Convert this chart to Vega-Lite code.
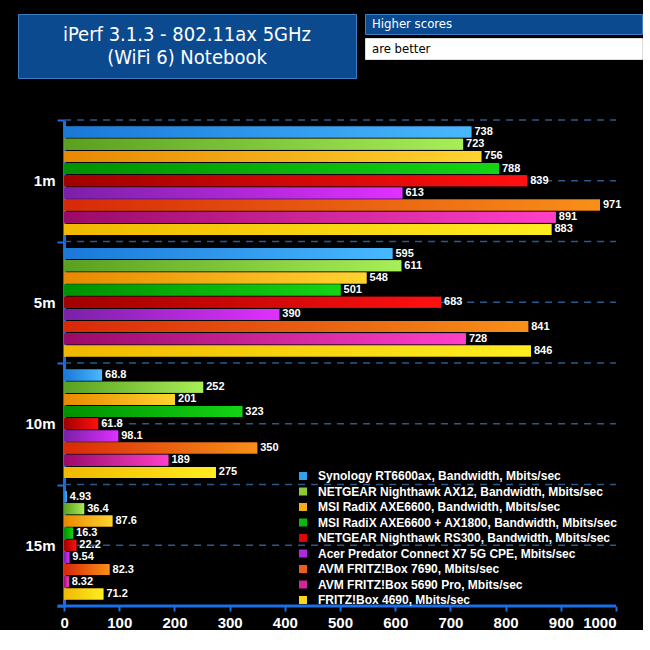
{
  "$schema": "https://vega.github.io/schema/vega-lite/v6.json",
  "background": "black",
  "padding": {"left": 17, "top": 13, "right": 0, "bottom": 0},
  "config": {"view": {"stroke": null}, "font": "Liberation Sans"},
  "datasets": {
    "bars": [
      {"distance": "1m", "device": "Synology RT6600ax, Bandwidth, Mbits/sec", "value": 738},
      {"distance": "1m", "device": "NETGEAR Nighthawk AX12, Bandwidth, Mbits/sec", "value": 723},
      {"distance": "1m", "device": "MSI RadiX AXE6600, Bandwidth, Mbits/sec", "value": 756},
      {"distance": "1m", "device": "MSI RadiX AXE6600 + AX1800, Bandwidth, Mbits/sec", "value": 788},
      {"distance": "1m", "device": "NETGEAR Nighthawk RS300, Bandwidth, Mbits/sec", "value": 839},
      {"distance": "1m", "device": "Acer Predator Connect X7 5G CPE, Mbits/sec", "value": 613},
      {"distance": "1m", "device": "AVM FRITZ!Box 7690, Mbits/sec", "value": 971},
      {"distance": "1m", "device": "AVM FRITZ!Box 5690 Pro, Mbits/sec", "value": 891},
      {"distance": "1m", "device": "FRITZ!Box 4690, Mbits/sec", "value": 883},
      {"distance": "5m", "device": "Synology RT6600ax, Bandwidth, Mbits/sec", "value": 595},
      {"distance": "5m", "device": "NETGEAR Nighthawk AX12, Bandwidth, Mbits/sec", "value": 611},
      {"distance": "5m", "device": "MSI RadiX AXE6600, Bandwidth, Mbits/sec", "value": 548},
      {"distance": "5m", "device": "MSI RadiX AXE6600 + AX1800, Bandwidth, Mbits/sec", "value": 501},
      {"distance": "5m", "device": "NETGEAR Nighthawk RS300, Bandwidth, Mbits/sec", "value": 683},
      {"distance": "5m", "device": "Acer Predator Connect X7 5G CPE, Mbits/sec", "value": 390},
      {"distance": "5m", "device": "AVM FRITZ!Box 7690, Mbits/sec", "value": 841},
      {"distance": "5m", "device": "AVM FRITZ!Box 5690 Pro, Mbits/sec", "value": 728},
      {"distance": "5m", "device": "FRITZ!Box 4690, Mbits/sec", "value": 846},
      {"distance": "10m", "device": "Synology RT6600ax, Bandwidth, Mbits/sec", "value": 68.8},
      {"distance": "10m", "device": "NETGEAR Nighthawk AX12, Bandwidth, Mbits/sec", "value": 252},
      {"distance": "10m", "device": "MSI RadiX AXE6600, Bandwidth, Mbits/sec", "value": 201},
      {"distance": "10m", "device": "MSI RadiX AXE6600 + AX1800, Bandwidth, Mbits/sec", "value": 323},
      {"distance": "10m", "device": "NETGEAR Nighthawk RS300, Bandwidth, Mbits/sec", "value": 61.8},
      {"distance": "10m", "device": "Acer Predator Connect X7 5G CPE, Mbits/sec", "value": 98.1},
      {"distance": "10m", "device": "AVM FRITZ!Box 7690, Mbits/sec", "value": 350},
      {"distance": "10m", "device": "AVM FRITZ!Box 5690 Pro, Mbits/sec", "value": 189},
      {"distance": "10m", "device": "FRITZ!Box 4690, Mbits/sec", "value": 275},
      {"distance": "15m", "device": "Synology RT6600ax, Bandwidth, Mbits/sec", "value": 4.93},
      {"distance": "15m", "device": "NETGEAR Nighthawk AX12, Bandwidth, Mbits/sec", "value": 36.4},
      {"distance": "15m", "device": "MSI RadiX AXE6600, Bandwidth, Mbits/sec", "value": 87.6},
      {"distance": "15m", "device": "MSI RadiX AXE6600 + AX1800, Bandwidth, Mbits/sec", "value": 16.3},
      {"distance": "15m", "device": "NETGEAR Nighthawk RS300, Bandwidth, Mbits/sec", "value": 22.2},
      {"distance": "15m", "device": "Acer Predator Connect X7 5G CPE, Mbits/sec", "value": 9.54},
      {"distance": "15m", "device": "AVM FRITZ!Box 7690, Mbits/sec", "value": 82.3},
      {"distance": "15m", "device": "AVM FRITZ!Box 5690 Pro, Mbits/sec", "value": 8.32},
      {"distance": "15m", "device": "FRITZ!Box 4690, Mbits/sec", "value": 71.2}
    ]
  },
  "vconcat": [
    {
      "hconcat": [
        {
          "width": 338,
          "height": 64,
          "view": {"fill": "#0b4a8e", "stroke": "#3f7cc0", "strokeWidth": 1},
          "data": {"values": [{"t": "iPerf 3.1.3 - 802.11ax 5GHz\n(WiFi 6) Notebook"}]},
          "mark": {"type": "text", "color": "white", "fontSize": 20, "font": "Liberation Sans Narrow, DejaVu Sans Condensed, Liberation Sans", "lineBreak": "\n", "lineHeight": 23, "baseline": "middle", "align": "center", "dy": -11},
          "encoding": {"text": {"field": "t", "type": "nominal"}}
        },
        {
          "vconcat": [
            {
              "width": 277,
              "height": 20,
              "view": {"fill": "#0b4a8e", "stroke": "#3f7cc0", "strokeWidth": 1},
              "data": {"values": [{"t": "Higher scores"}]},
              "mark": {"type": "text", "color": "white", "fontSize": 13, "font": "Liberation Sans Narrow, DejaVu Sans Condensed, Liberation Sans", "align": "left", "baseline": "middle", "dx": 7},
              "encoding": {
                "x": {"datum": 0, "type": "quantitative", "scale": {"domain": [0, 1]}, "axis": null},
                "text": {"field": "t", "type": "nominal"}
              }
            },
            {
              "width": 277,
              "height": 21,
              "view": {"fill": "white", "stroke": "#dddddd", "strokeWidth": 1},
              "data": {"values": [{"t": "are better"}]},
              "mark": {"type": "text", "color": "black", "fontSize": 13, "font": "Liberation Sans Narrow, DejaVu Sans Condensed, Liberation Sans", "align": "left", "baseline": "middle", "dx": 7},
              "encoding": {
                "x": {"datum": 0, "type": "quantitative", "scale": {"domain": [0, 1]}, "axis": null},
                "text": {"field": "t", "type": "nominal"}
              }
            }
          ],
          "spacing": 2,
          "resolve": {"scale": {"x": "independent", "y": "independent"}}
        }
      ],
      "spacing": 7,
      "resolve": {"scale": {"x": "independent", "y": "independent"}}
    },
    {
      "width": 598,
      "height": 486,
      "data": {"name": "bars"},
      "encoding": {
        "y": {
          "field": "distance",
          "type": "nominal",
          "sort": ["1m", "5m", "10m", "15m"],
          "scale": {"paddingInner": 0, "paddingOuter": 0},
          "axis": {
            "title": null,
            "offset": -46,
            "domainColor": "#1a6fe6",
            "domainWidth": 3,
            "tickColor": "#1a6fe6",
            "tickWidth": 2,
            "tickSize": 7,
            "tickBand": "extent",
            "labelColor": "white",
            "labelFont": "Liberation Sans",
            "labelFontWeight": "bold",
            "labelFontSize": 15,
            "labelPadding": 2,
            "grid": false
          }
        }
      },
      "layer": [
        {
          "transform": [{"aggregate": [{"op": "count", "as": "n"}], "groupby": ["distance"]}],
          "mark": {"type": "rule", "color": "#2a5a8c", "strokeDash": [7, 6], "strokeWidth": 1.5},
          "encoding": {
            "x": {"datum": 0, "type": "quantitative"},
            "x2": {"datum": 1000}
          }
        },
        {
          "transform": [{"aggregate": [{"op": "count", "as": "n"}], "groupby": ["distance"]}],
          "mark": {"type": "rule", "color": "#2a5a8c", "strokeDash": [7, 6], "strokeWidth": 1.5},
          "encoding": {
            "y": {"field": "distance", "type": "nominal", "sort": ["1m", "5m", "10m", "15m"], "bandPosition": 0},
            "x": {"datum": 0, "type": "quantitative"},
            "x2": {"datum": 1000}
          }
        },
        {
          "transform": [{"filter": "datum.distance === '15m'"}, {"aggregate": [{"op": "count", "as": "n"}], "groupby": ["distance"]}],
          "mark": {"type": "rule", "color": "#1a6fe6", "strokeWidth": 3},
          "encoding": {
            "y": {"field": "distance", "type": "nominal", "sort": ["1m", "5m", "10m", "15m"], "bandPosition": 1},
            "x": {"datum": -12, "type": "quantitative"},
            "x2": {"datum": 1000}
          }
        },
        {
          "mark": {"type": "bar"},
          "encoding": {
            "x": {
              "field": "value",
              "type": "quantitative",
              "scale": {"domain": [-83.5, 1000], "nice": false, "zero": false},
              "axis": {
                "title": null,
                "values": [0, 100, 200, 300, 400, 500, 600, 700, 800, 900, 1000],
                "format": "d",
                "grid": false,
                "domain": false,
                "tickColor": "#1a6fe6",
                "tickWidth": 2,
                "tickSize": 5,
                "labelColor": "white",
                "labelFont": "Liberation Sans",
                "labelFontWeight": "bold",
                "labelFontSize": 15,
                "labelPadding": 4
              }
            },
            "x2": {"datum": 0},
            "yOffset": {
              "field": "device",
              "type": "nominal",
              "sort": null,
              "scale": {
                "domain": [
                  "Synology RT6600ax, Bandwidth, Mbits/sec",
                  "NETGEAR Nighthawk AX12, Bandwidth, Mbits/sec",
                  "MSI RadiX AXE6600, Bandwidth, Mbits/sec",
                  "MSI RadiX AXE6600 + AX1800, Bandwidth, Mbits/sec",
                  "NETGEAR Nighthawk RS300, Bandwidth, Mbits/sec",
                  "Acer Predator Connect X7 5G CPE, Mbits/sec",
                  "AVM FRITZ!Box 7690, Mbits/sec",
                  "AVM FRITZ!Box 5690 Pro, Mbits/sec",
                  "FRITZ!Box 4690, Mbits/sec"
                ],
                "paddingInner": 0.1,
                "paddingOuter": 0.54
              }
            },
            "color": {
              "field": "device",
              "type": "nominal",
              "sort": null,
              "scale": {
                "domain": [
                  "Synology RT6600ax, Bandwidth, Mbits/sec",
                  "NETGEAR Nighthawk AX12, Bandwidth, Mbits/sec",
                  "MSI RadiX AXE6600, Bandwidth, Mbits/sec",
                  "MSI RadiX AXE6600 + AX1800, Bandwidth, Mbits/sec",
                  "NETGEAR Nighthawk RS300, Bandwidth, Mbits/sec",
                  "Acer Predator Connect X7 5G CPE, Mbits/sec",
                  "AVM FRITZ!Box 7690, Mbits/sec",
                  "AVM FRITZ!Box 5690 Pro, Mbits/sec",
                  "FRITZ!Box 4690, Mbits/sec"
                ],
                "range": ["#33a0ee", "#8ccc38", "#f4ae18", "#0cb80c", "#d80808", "#b028e0", "#e86018", "#d02898", "#f8d818"]
              },
              "legend": {
                "title": null,
                "orient": "none",
                "legendX": 279,
                "legendY": 456,
                "symbolType": "square",
                "symbolSize": 64,
                "symbolStrokeWidth": 0,
                "labelColor": "white",
                "labelFont": "Liberation Sans",
                "labelFontWeight": "bold",
                "labelFontSize": 12,
                "labelOffset": 9,
                "labelLimit": 400,
                "rowPadding": 3.5
              }
            }
          }
        },
        {
          "transform": [{"filter": "datum.device === 'Synology RT6600ax, Bandwidth, Mbits/sec'"}],
          "mark": {"type": "bar", "fill": {"gradient": "linear", "x1": 0, "y1": 0, "x2": 1, "y2": 0, "stops": [{"offset": 0, "color": "#1a78d8"}, {"offset": 1, "color": "#48b8ff"}]}},
          "encoding": {"x": {"field": "value", "type": "quantitative"}, "x2": {"datum": 0}, "yOffset": {"field": "device", "type": "nominal", "sort": null}}
        },
        {
          "transform": [{"filter": "datum.device === 'NETGEAR Nighthawk AX12, Bandwidth, Mbits/sec'"}],
          "mark": {"type": "bar", "fill": {"gradient": "linear", "x1": 0, "y1": 0, "x2": 1, "y2": 0, "stops": [{"offset": 0, "color": "#5aa020"}, {"offset": 1, "color": "#a8ee58"}]}},
          "encoding": {"x": {"field": "value", "type": "quantitative"}, "x2": {"datum": 0}, "yOffset": {"field": "device", "type": "nominal", "sort": null}}
        },
        {
          "transform": [{"filter": "datum.device === 'MSI RadiX AXE6600, Bandwidth, Mbits/sec'"}],
          "mark": {"type": "bar", "fill": {"gradient": "linear", "x1": 0, "y1": 0, "x2": 1, "y2": 0, "stops": [{"offset": 0, "color": "#e88800"}, {"offset": 1, "color": "#ffd430"}]}},
          "encoding": {"x": {"field": "value", "type": "quantitative"}, "x2": {"datum": 0}, "yOffset": {"field": "device", "type": "nominal", "sort": null}}
        },
        {
          "transform": [{"filter": "datum.device === 'MSI RadiX AXE6600 + AX1800, Bandwidth, Mbits/sec'"}],
          "mark": {"type": "bar", "fill": {"gradient": "linear", "x1": 0, "y1": 0, "x2": 1, "y2": 0, "stops": [{"offset": 0, "color": "#009000"}, {"offset": 1, "color": "#14d414"}]}},
          "encoding": {"x": {"field": "value", "type": "quantitative"}, "x2": {"datum": 0}, "yOffset": {"field": "device", "type": "nominal", "sort": null}}
        },
        {
          "transform": [{"filter": "datum.device === 'NETGEAR Nighthawk RS300, Bandwidth, Mbits/sec'"}],
          "mark": {"type": "bar", "fill": {"gradient": "linear", "x1": 0, "y1": 0, "x2": 1, "y2": 0, "stops": [{"offset": 0, "color": "#a00000"}, {"offset": 1, "color": "#ff1010"}]}},
          "encoding": {"x": {"field": "value", "type": "quantitative"}, "x2": {"datum": 0}, "yOffset": {"field": "device", "type": "nominal", "sort": null}}
        },
        {
          "transform": [{"filter": "datum.device === 'Acer Predator Connect X7 5G CPE, Mbits/sec'"}],
          "mark": {"type": "bar", "fill": {"gradient": "linear", "x1": 0, "y1": 0, "x2": 1, "y2": 0, "stops": [{"offset": 0, "color": "#7a20a8"}, {"offset": 1, "color": "#e030ff"}]}},
          "encoding": {"x": {"field": "value", "type": "quantitative"}, "x2": {"datum": 0}, "yOffset": {"field": "device", "type": "nominal", "sort": null}}
        },
        {
          "transform": [{"filter": "datum.device === 'AVM FRITZ!Box 7690, Mbits/sec'"}],
          "mark": {"type": "bar", "fill": {"gradient": "linear", "x1": 0, "y1": 0, "x2": 1, "y2": 0, "stops": [{"offset": 0, "color": "#d82808"}, {"offset": 1, "color": "#f89018"}]}},
          "encoding": {"x": {"field": "value", "type": "quantitative"}, "x2": {"datum": 0}, "yOffset": {"field": "device", "type": "nominal", "sort": null}}
        },
        {
          "transform": [{"filter": "datum.device === 'AVM FRITZ!Box 5690 Pro, Mbits/sec'"}],
          "mark": {"type": "bar", "fill": {"gradient": "linear", "x1": 0, "y1": 0, "x2": 1, "y2": 0, "stops": [{"offset": 0, "color": "#9a0a68"}, {"offset": 1, "color": "#ff40c8"}]}},
          "encoding": {"x": {"field": "value", "type": "quantitative"}, "x2": {"datum": 0}, "yOffset": {"field": "device", "type": "nominal", "sort": null}}
        },
        {
          "transform": [{"filter": "datum.device === 'FRITZ!Box 4690, Mbits/sec'"}],
          "mark": {"type": "bar", "fill": {"gradient": "linear", "x1": 0, "y1": 0, "x2": 1, "y2": 0, "stops": [{"offset": 0, "color": "#f0b800"}, {"offset": 1, "color": "#ffee20"}]}},
          "encoding": {"x": {"field": "value", "type": "quantitative"}, "x2": {"datum": 0}, "yOffset": {"field": "device", "type": "nominal", "sort": null}}
        },
        {
          "mark": {"type": "text", "color": "white", "font": "Liberation Sans", "fontWeight": "bold", "fontSize": 11, "align": "left", "baseline": "middle", "dx": 3},
          "encoding": {
            "x": {"field": "value", "type": "quantitative"},
            "yOffset": {"field": "device", "type": "nominal", "sort": null},
            "text": {"field": "value", "type": "quantitative", "format": ".3r"}
          }
        }
      ]
    }
  ],
  "spacing": 34,
  "resolve": {"scale": {"x": "independent", "y": "independent"}}
}
